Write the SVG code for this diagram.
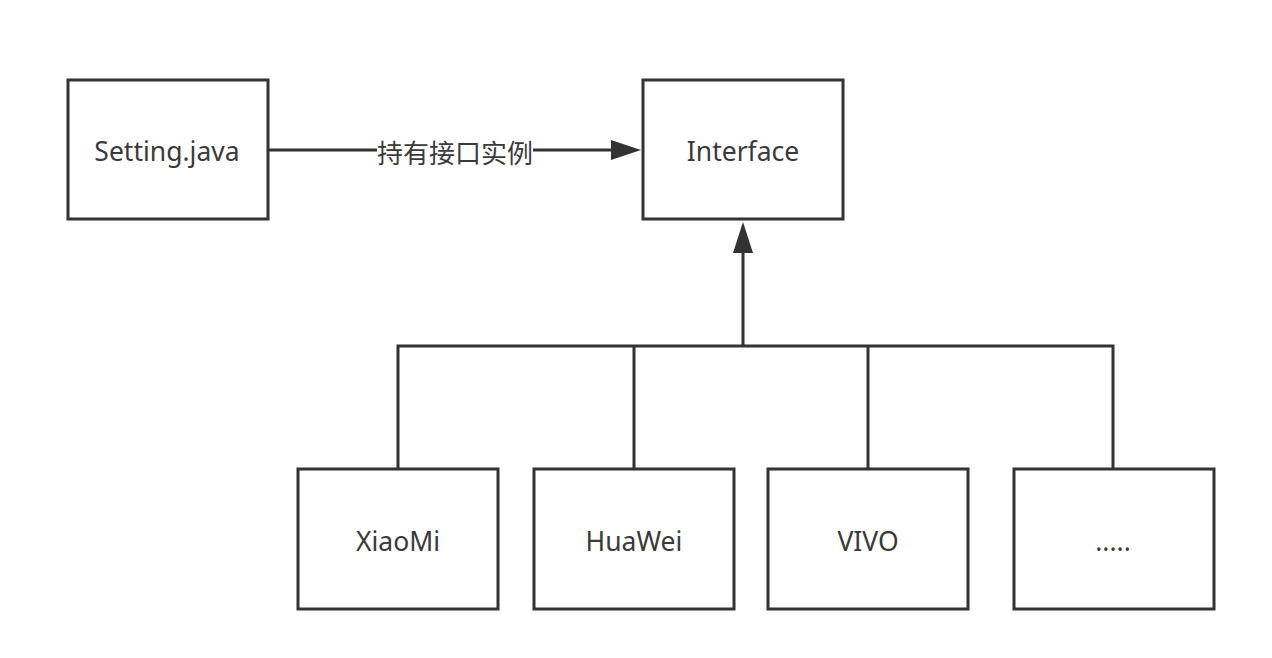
<svg xmlns="http://www.w3.org/2000/svg" width="1272" height="658" viewBox="0 0 1272 658">
<style>
.box{fill:#fff;stroke:#333;stroke-width:3}
.lbl{font-family:"Noto Sans","Liberation Sans","Noto Sans CJK SC",sans-serif;font-size:26.5px;fill:#3a3a3a;text-anchor:middle;dominant-baseline:central}
.edge{fill:none;stroke:#333;stroke-width:3}
.cjk{font-family:"Noto Sans CJK SC",sans-serif;font-size:26px;fill:#3a3a3a;text-anchor:middle;dominant-baseline:central}
</style>
<rect width="1272" height="658" fill="#fff"/>
<g id="connectors">
<line class="edge" x1="268" y1="150" x2="613" y2="150"/>
<polygon points="611,140 641,150 611,160" fill="#333"/>
<rect x="377" y="134" width="156" height="34" fill="#fff"/>
<text class="cjk" x="455" y="151">持有接口实例</text>
<line class="edge" x1="743" y1="346" x2="743" y2="250"/>
<polygon points="733,253 743,222 753,253" fill="#333"/>
<polyline class="edge" points="398,469 398,346 1113,346 1113,469"/>
<line class="edge" x1="634" y1="346" x2="634" y2="469"/>
<line class="edge" x1="868" y1="346" x2="868" y2="469"/>
</g>
<g id="setting"><rect class="box" x="68" y="80" width="200" height="139"/><text class="lbl" x="167" y="151">Setting.java</text></g>
<g id="interface"><rect class="box" x="643" y="80" width="200" height="139"/><text class="lbl" x="743" y="151">Interface</text></g>
<g id="xiaomi"><rect class="box" x="298" y="469" width="200" height="140"/><text class="lbl" x="398" y="541">XiaoMi</text></g>
<g id="huawei"><rect class="box" x="534" y="469" width="200" height="140"/><text class="lbl" x="634" y="541">HuaWei</text></g>
<g id="vivo"><rect class="box" x="768" y="469" width="200" height="140"/><text class="lbl" x="868" y="541">VIVO</text></g>
<g id="more"><rect class="box" x="1014" y="469" width="200" height="140"/><text class="lbl" x="1113" y="541">.....</text></g>
</svg>
